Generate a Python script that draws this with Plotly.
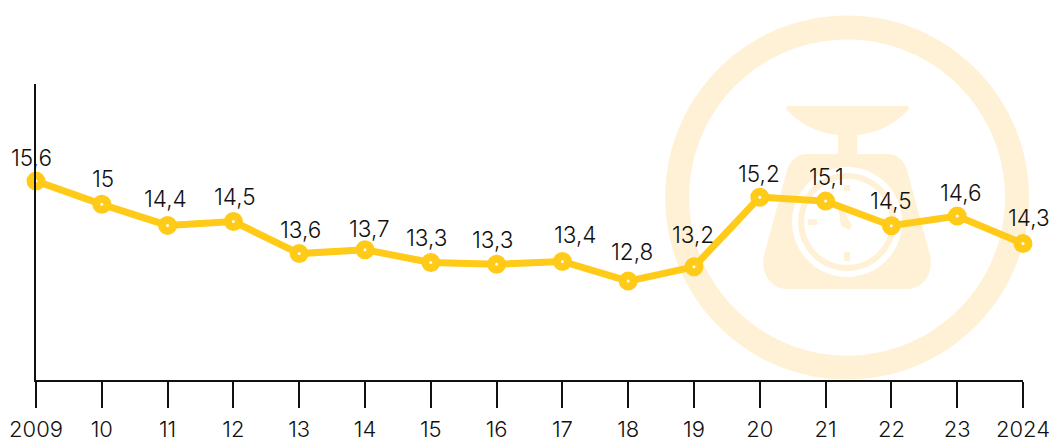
import plotly.graph_objects as go

years = list(range(2009, 2025))
tick_labels = ["2009", "10", "11", "12", "13", "14", "15", "16", "17", "18", "19", "20", "21", "22", "23", "2024"]
plotted = [15.6, 14.95, 14.36, 14.47, 13.57, 13.68, 13.32, 13.27, 13.35, 12.8, 13.2, 15.15, 15.04, 14.35, 14.62, 13.85]
labels = ["15,6", "15", "14,4", "14,5", "13,6", "13,7", "13,3", "13,3", "13,4", "12,8", "13,2", "15,2", "15,1", "14,5", "14,6", "14,3"]
label_dx = [-5, 1, -2, 2, 1, 4, -4, -4, 13, 4, -1, -1, 1, 0, 4, 6]
label_dy = [24, 26, 27, 25, 24, 21, 25, 25, 27, 30, 32, 24, 25, 25, 24, 26]

W, H = 1052, 442
L, R, T, B = 35.5, 29, 84, 62
YELLOW = "#FFCA18"
CREAM = "#FFF1D6"
INK = "#111111"
FONT = "Inter"

def px(x):
    return (x - L) / (W - L - R)
def py(y):
    return 1 - (y - T) / (H - T - B)
def P(x, y):
    return f"{px(x):.5f},{py(y):.5f}"

def circle(cx, cy, r, fill):
    return dict(type="path", xref="paper", yref="paper", layer="below", fillcolor=fill, line_width=0,
                path=f"M{P(cx-r,cy)} C{P(cx-r,cy-.5523*r)} {P(cx-.5523*r,cy-r)} {P(cx,cy-r)} "
                     f"C{P(cx+.5523*r,cy-r)} {P(cx+r,cy-.5523*r)} {P(cx+r,cy)} "
                     f"C{P(cx+r,cy+.5523*r)} {P(cx+.5523*r,cy+r)} {P(cx,cy+r)} "
                     f"C{P(cx-.5523*r,cy+r)} {P(cx-r,cy+.5523*r)} {P(cx-r,cy)} Z")

def poly(d, fill):
    return dict(type="path", xref="paper", yref="paper", layer="below", fillcolor=fill, line_width=0, path=d)

CX, CY = 847, 197.5
DX, DY = 847, 222
shapes = [
    circle(CX, CY, 182, CREAM), circle(CX, CY, 158, "white"),
    poly(f"M{P(788,106)} L{P(907,106)} Q{P(910,107)} {P(908,110)} C{P(895,124)} {P(878,133)} {P(857,135)} "
         f"L{P(857,154)} L{P(887,154)} C{P(897,154)} {P(904,160)} {P(907,170)} L{P(930,255)} "
         f"C{P(934,272)} {P(924,289)} {P(907,289)} L{P(787,289)} C{P(770,289)} {P(760,272)} {P(764,255)} "
         f"L{P(787,170)} C{P(790,160)} {P(797,154)} {P(808,154)} L{P(838,154)} L{P(838,135)} "
         f"C{P(817,133)} {P(800,124)} {P(787,110)} Q{P(785,107)} {P(788,106)} Z", CREAM),
    circle(DX, DY, 55, "white"), circle(DX, DY, 49, CREAM), circle(DX, DY, 43, "white"),
    poly(f"M{P(844,185)} L{P(850,185)} L{P(850,191)} L{P(844,191)} Z", CREAM),
    poly(f"M{P(844,252)} L{P(850,252)} L{P(850,261)} L{P(844,261)} Z", CREAM),
    poly(f"M{P(808,219)} L{P(817,219)} L{P(817,225)} L{P(808,225)} Z", CREAM),
    poly(f"M{P(838,208)} L{P(842,207)} L{P(852,226)} L{P(849,230)} L{P(841,226)} Z", CREAM),
]

annotations = [
    dict(x=x, y=y, text=t, xref="x", yref="y", showarrow=False, xanchor="center", yanchor="middle",
         xshift=dx, yshift=dy, font=dict(family=FONT, size=22.5, color=INK, weight=300))
    for x, y, t, dx, dy in zip(years, plotted, labels, label_dx, label_dy)
]

fig = go.Figure()
fig.add_trace(go.Scatter(
    x=years, y=plotted, mode="lines+markers",
    line=dict(color=YELLOW, width=7),
    marker=dict(size=11, color="white", line=dict(color=YELLOW, width=8)),
    cliponaxis=False, hoverinfo="skip", showlegend=False,
))
fig.update_layout(
    width=W, height=H, margin=dict(l=L, r=R, t=T, b=B, autoexpand=False),
    paper_bgcolor="white", plot_bgcolor="rgba(0,0,0,0)", shapes=shapes, annotations=annotations,
    font=dict(family=FONT, size=22.5, color=INK, weight=300),
    xaxis=dict(range=[2009, 2024], tickmode="array", tickvals=years, ticktext=tick_labels,
               showgrid=False, zeroline=False, showline=True, linecolor=INK, linewidth=2,
               ticks="outside", ticklen=26, tickwidth=1.5, tickcolor=INK,
               tickfont=dict(family=FONT, size=22, color=INK, weight=300),
               tickangle=0, automargin=False, ticklabelstandoff=3),
    yaxis=dict(range=[10.03, 18.32], showgrid=False, zeroline=False, showline=True, linecolor=INK,
               linewidth=2, showticklabels=False, ticks="", automargin=False),
)
fig.write_html("out.html", config=dict(displayModeBar=False),
               post_script="document.body.style.margin='0';")
